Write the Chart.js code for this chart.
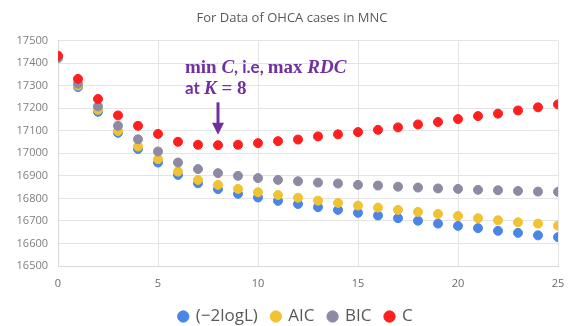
<!DOCTYPE html>
<html>
<head>
<meta charset="utf-8">
<script src="https://cdn.jsdelivr.net/npm/chart.js@4"></script>
<style>
  html, body { margin: 0; padding: 0; background: #fff; }
  #wrap { width: 572px; height: 326px; }
</style>
</head>
<body>
<div id="wrap"><canvas id="myChart" width="572" height="326"></canvas></div>
<script>
// number of clusters K
const kValues = [0,1,2,3,4,5,6,7,8,9,10,11,12,13,14,15,16,17,18,19,20,21,22,23,24,25];

const negTwoLogL = [17422,17294,17184,17091,17019,16959,16904,16867,16841,16820,16804,16789,16775,
  16761,16749,16736,16724,16712,16701,16688,16678,16668,16656,16647,16636,16628];
const aic = [17424,17301,17193,17099,17030,16974,16919,16882,16860,16842,16827,16815,16803,
  16790,16780,16768,16759,16749,16740,16731,16722,16712,16703,16694,16688,16679];
const bic = [17425,17309,17208,17122,17062,17008,16959,16930,16912,16900,16890,16882,16876,
  16870,16866,16860,16857,16852,16848,16844,16842,16838,16836,16833,16830,16829];
const cValues = [17433,17330,17241,17168,17122,17086,17051,17038,17036,17038,17045,17054,17061,
  17075,17084,17094,17104,17115,17128,17139,17152,17165,17176,17190,17204,17217];

const xTicks = [0, 5, 10, 15, 20, 25];
const yTicks = [16500,16600,16700,16800,16900,17000,17100,17200,17300,17400,17500];

function points(vals) {
  return kValues.map((k, i) => ({ x: k, y: vals[i] }));
}

function series(label, vals, color, order) {
  return {
    label: label,
    data: points(vals),
    backgroundColor: color,
    borderColor: color,
    pointRadius: 4.5,
    pointHoverRadius: 4.5,
    showLine: false,
    order: order
  };
}

// text + arrow note pointing at K = 8
const notePlugin = {
  id: 'note',
  afterLayout(chart) {
    // title and legend sit a little right of centre in the original
    chart.titleBlock.left += 8; chart.titleBlock.right += 8;
    chart.legend.left += 12; chart.legend.right += 12;
  },
  afterDatasetsDraw(chart) {
    const ctx = chart.ctx;
    const xs = chart.scales.x, ys = chart.scales.y;
    const ax = xs.getPixelForValue(8);
    const purple = '#7030a0';
    const serif = 'bold 19px "Liberation Serif"';
    const serifIt = 'italic bold 19px "Liberation Serif"';
    const sans = 'bold 17px Lato';
    ctx.save();
    ctx.fillStyle = purple;
    ctx.textBaseline = 'alphabetic';
    function line(parts, x, y) {
      parts.forEach(p => {
        ctx.font = p[1];
        ctx.fillText(p[0], x, y);
        x += ctx.measureText(p[0]).width;
      });
    }
    const left = ax - 33;
    line([['min ', serif], ['C', serifIt], [', i.e, ', sans], ['max ', serif], ['RDC', serifIt]],
      left, ys.getPixelForValue(17357));
    line([['at ', sans], ['K', serifIt], [' = 8', serif]], left, ys.getPixelForValue(17262));
    // arrow
    const top = ys.getPixelForValue(17226);
    const tip = ys.getPixelForValue(17082);
    ctx.strokeStyle = purple;
    ctx.lineWidth = 3;
    ctx.beginPath();
    ctx.moveTo(ax, top);
    ctx.lineTo(ax, tip - 8);
    ctx.stroke();
    ctx.beginPath();
    ctx.moveTo(ax - 6, tip - 12);
    ctx.lineTo(ax + 6, tip - 12);
    ctx.lineTo(ax, tip);
    ctx.closePath();
    ctx.fill();
    ctx.restore();
  }
};

const ctx = document.getElementById('myChart');
new Chart(ctx, {
  type: 'scatter',
  data: {
    datasets: [
      series('(\u22122logL)', negTwoLogL, '#4a86e8', 4),
      series('AIC', aic, '#f1c232', 3),
      series('BIC', bic, '#8e8aa3', 2),
      series('C', cValues, '#ff1f1f', 1)
    ]
  },
  options: {
    responsive: false,
    animation: false,
    layout: { padding: { left: 10, right: 14, top: 0, bottom: -9 } },
    plugins: {
      title: {
        display: true,
        text: 'For Data of OHCA cases in MNC',
        color: '#595959',
        font: { family: '"Open Sans"', size: 13, weight: 'normal' },
        padding: { top: 10, bottom: 15 }
      },
      legend: {
        position: 'bottom',
        labels: {
          usePointStyle: true,
          pointStyle: 'circle',
          boxWidth: 8,
          boxHeight: 8,
          padding: 14,
          color: '#595959',
          font: { family: '"Open Sans"', size: 17 },
          sort: (a, b) => a.datasetIndex - b.datasetIndex
        }
      },
      tooltip: { enabled: false }
    },
    scales: {
      x: {
        type: 'linear',
        min: 0,
        max: 25,
        afterBuildTicks(s) { s.ticks = xTicks.map(v => ({ value: v })); },
        afterFit(s) { s.height = 28; s.paddingRight = 6; s.paddingLeft = 0; },
        grid: { color: '#e4e4e4', drawTicks: false },
        border: { color: '#d9d9d9' },
        ticks: { color: '#6a6a6a', padding: 11, maxRotation: 0, font: { family: '"Open Sans"', size: 11 } }
      },
      y: {
        min: 16500,
        max: 17500,
        afterBuildTicks(s) { s.ticks = yTicks.map(v => ({ value: v })); },
        afterFit(s) { s.width = 48; },
        grid: { color: '#e4e4e4', drawTicks: false },
        border: { color: '#d9d9d9' },
        ticks: {
          color: '#7f7f7f',
          padding: 10,
          font: { family: '"Open Sans"', size: 11 },
          callback: v => String(v)
        }
      }
    }
  },
  plugins: [notePlugin]
});
</script>
</body>
</html>
